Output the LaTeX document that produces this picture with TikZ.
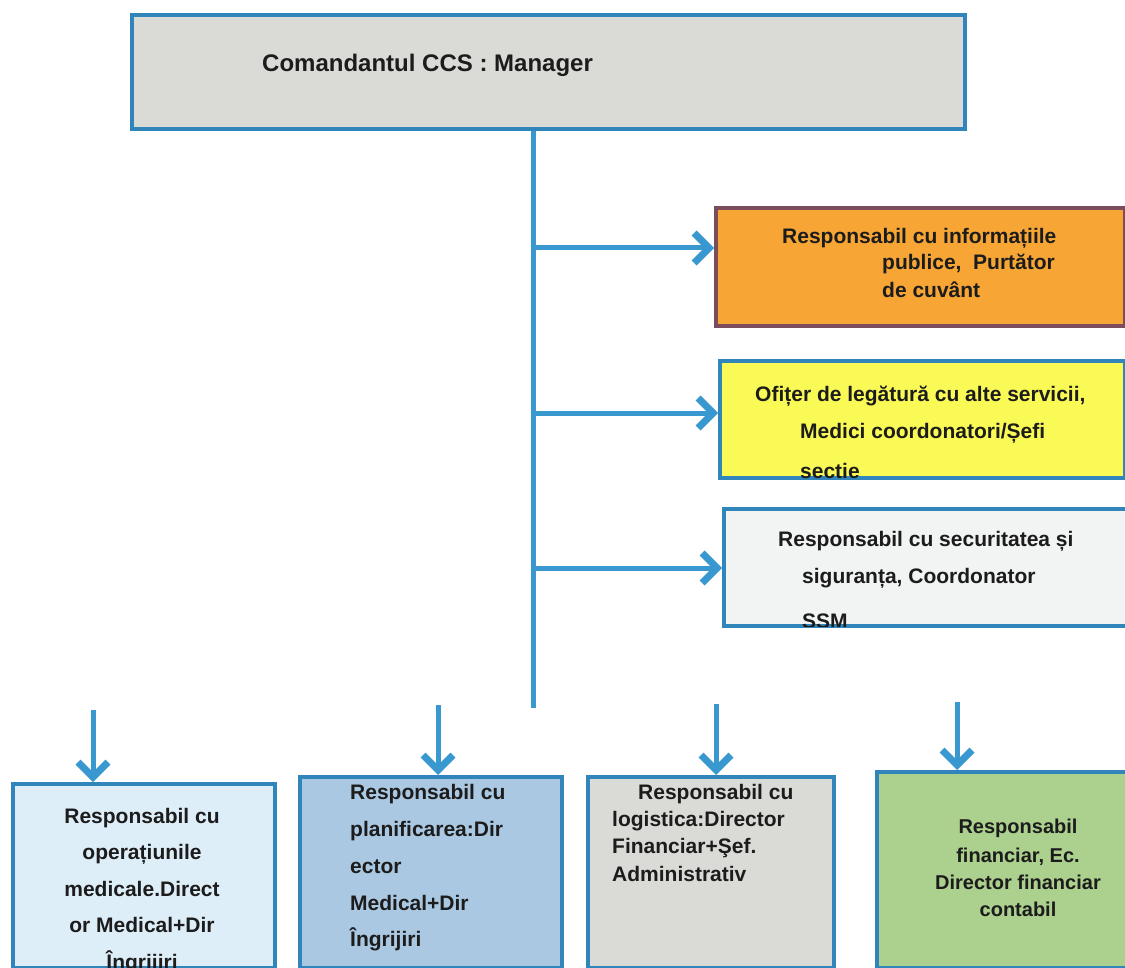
\documentclass[tikz,border=0pt]{standalone}
\usepackage{fontspec}
\setmainfont{Liberation Sans}
\usetikzlibrary{arrows.meta}

\definecolor{linkblue}{RGB}{58,152,208}
\definecolor{boxblue}{RGB}{48,134,186}
\definecolor{ink}{RGB}{28,28,28}
\definecolor{topfill}{RGB}{218,218,214}
\definecolor{orangefill}{RGB}{247,166,54}
\definecolor{orangeedge}{RGB}{122,76,92}
\definecolor{yellowfill}{RGB}{250,250,86}
\definecolor{whitefill}{RGB}{242,243,243}
\definecolor{opsfill}{RGB}{222,238,248}
\definecolor{planfill}{RGB}{170,200,226}
\definecolor{logfill}{RGB}{218,219,214}
\definecolor{finfill}{RGB}{172,208,142}

\begin{document}
\begin{tikzpicture}[x=1pt,y=-1pt,
  box/.style={draw=boxblue, line width=4pt, rectangle, inner sep=0pt, anchor=north west},
  lbl/.style={anchor=base west, inner sep=0pt, text=ink,
              font=\bfseries\fontsize{21}{21}\selectfont},
  lblc/.style={lbl, anchor=base},
  link/.style={draw=linkblue, line width=5pt},
  tip/.style={link, -{Straight Barb[length=15pt,width=30pt,line width=7pt]}}]

\useasboundingbox (0,0) rectangle (1125,968);
\clip (0,0) rectangle (1125,968);
\fill[white] (0,0) rectangle (1125,968);

% boxes
\node[box, fill=topfill, minimum width=833pt, minimum height=114pt] (top) at (130,13) {};
\node[box, draw=orangeedge, fill=orangefill, minimum width=409pt, minimum height=118pt] (info) at (714,206) {};
\node[box, fill=yellowfill, minimum width=405pt, minimum height=117pt] (liaison) at (718,359) {};
\node[box, fill=whitefill, minimum width=420pt, minimum height=117pt] (safety) at (722,507) {};
\node[box, fill=opsfill, minimum width=262pt, minimum height=184pt] (ops) at (11,782) {};
\node[box, fill=planfill, minimum width=262pt, minimum height=191pt] (plan) at (298,775) {};
\node[box, fill=logfill, minimum width=246pt, minimum height=191pt] (logi) at (586,775) {};
\node[box, fill=finfill, minimum width=270pt, minimum height=196pt] (fin) at (875,770) {};

% trunk and side branches
\coordinate (trunkend) at (533,708);
\draw[link] (top.south -| trunkend) -- (trunkend);
\coordinate (j1) at (533,248);
\coordinate (j2) at (533,413);
\coordinate (j3) at (533,568);
\draw[tip] (j1) -- (j1 -| info.west);
\draw[tip] (j2) -- (j2 -| liaison.west);
\draw[tip] (j3) -- (j3 -| safety.west);

% arrows into the lower row
\coordinate (d1) at (93,710);
\coordinate (d2) at (438,705);
\coordinate (d3) at (716,704);
\coordinate (d4) at (957,702);
\draw[tip] (d1) -- (d1 |- ops.north);
\draw[tip] (d2) -- (d2 |- plan.north);
\draw[tip] (d3) -- (d3 |- logi.north);
\draw[tip] (d4) -- (d4 |- fin.north);

% labels
\node[lbl, font=\bfseries\fontsize{24}{24}\selectfont] (topt) at (262,72) {Comandantul CCS : Manager};

\node[lbl] (info1) at (782,244) {Responsabil cu informațiile};
\node[lbl] (info2) at (882,270) {publice,\ \ Purtător};
\node[lbl] (info3) at (882,298) {de cuvânt};

\begin{scope}
  \clip ([shift={(2pt,-2pt)}]liaison.north west) rectangle ([shift={(-2pt,2pt)}]liaison.south east);
  \node[lbl] (lia1) at (755,402) {Ofițer de legătură cu alte servicii,};
  \node[lbl] (lia2) at (800,438) {Medici coordonatori/Șefi};
  \node[lbl] (lia3) at (800,478) {secție};
\end{scope}

\begin{scope}
  \clip ([shift={(2pt,-2pt)}]safety.north west) rectangle ([shift={(-2pt,2pt)}]safety.south east);
  \node[lbl] (saf1) at (778,546) {Responsabil cu securitatea și};
  \node[lbl] (saf2) at (802,583) {siguranța, Coordonator};
  \node[lbl] (saf3) at (802,628) {SSM};
\end{scope}

\begin{scope}
  \clip ([shift={(2pt,-2pt)}]ops.north west) rectangle ([shift={(-2pt,2pt)}]ops.south east);
  \node[lblc] (ops1) at (142,823) {Responsabil cu};
  \node[lblc] (ops2) at (142,859) {operațiunile};
  \node[lblc] (ops3) at (142,896) {medicale.Direct};
  \node[lblc] (ops4) at (142,932) {or Medical+Dir};
  \node[lblc] (ops5) at (142,969) {Îngrijiri};
\end{scope}

\node[lbl] (plan1) at (350,799) {Responsabil cu};
\node[lbl] (plan2) at (350,836) {planificarea:Dir};
\node[lbl] (plan3) at (350,873) {ector};
\node[lbl] (plan4) at (350,910) {Medical+Dir};
\node[lbl] (plan5) at (350,946) {Îngrijiri};

\node[lbl] (log1) at (638,799) {Responsabil cu};
\node[lbl] (log2) at (612,826) {logistica:Director};
\node[lbl] (log3) at (612,853) {Financiar+Şef.};
\node[lbl] (log4) at (612,881) {Administrativ};

\node[lblc, font=\bfseries\fontsize{20}{20}\selectfont] (fin1) at (1018,833) {Responsabil};
\node[lblc, font=\bfseries\fontsize{20}{20}\selectfont] (fin2) at (1018,862) {financiar, Ec.};
\node[lblc, font=\bfseries\fontsize{20}{20}\selectfont] (fin3) at (1018,889) {Director financiar};
\node[lblc, font=\bfseries\fontsize{20}{20}\selectfont] (fin4) at (1018,916) {contabil};

\end{tikzpicture}
\end{document}
